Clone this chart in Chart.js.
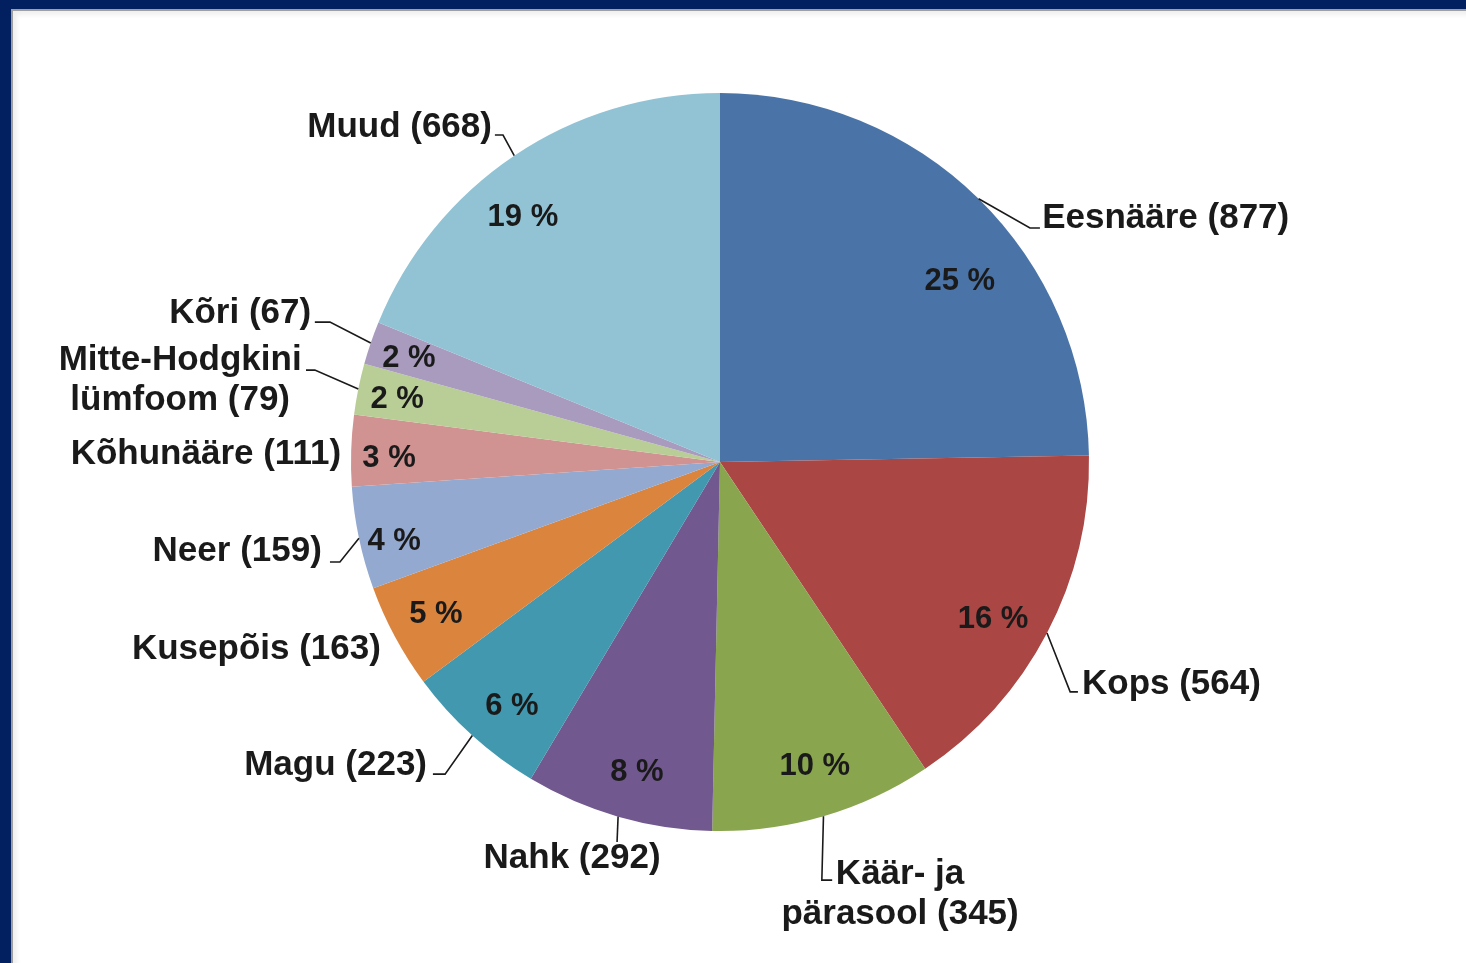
<!DOCTYPE html>
<html>
<head>
<meta charset="utf-8">
<script src="https://cdn.jsdelivr.net/npm/chart.js@4.4.1/dist/chart.umd.min.js"></script>
<style>
  body { margin: 0; background: #fff; }
  #frame { position: absolute; left: 0; top: 0; width: 1466px; height: 963px; background: #022060; }
  #panel { position: absolute; left: 11px; top: 9px; right: 0; bottom: 0; background: #fff;
           border-left: 2px solid #a0a0a0; border-top: 2px solid #a0a0a0;
           box-shadow: inset 4px 4px 4px #f0f0f0; }
  #wrap { position: absolute; left: 0; top: 0; width: 1466px; height: 963px; }
</style>
</head>
<body>
<div id="frame"><div id="panel"></div></div>
<div id="wrap"><canvas id="pieChart"></canvas></div>
<script>
// categories and values (tumors, count)
const categories = ['Eesnääre', 'Kops', ['Käär- ja', 'pärasool'], 'Nahk', 'Magu', 'Kusepõis',
  'Neer', 'Kõhunääre', ['Mitte-Hodgkini', 'lümfoom'], 'Kõri', 'Muud'];
const counts = [877, 564, 345, 292, 223, 163, 159, 111, 79, 67, 668];
const colors = ['#4A74A8', '#AA4644', '#89A54E', '#71588F', '#4198AF', '#DB843D',
  '#93A9CF', '#D19392', '#B9CD96', '#A99BBD', '#92C3D5'];

// label layout, as fractions of the radius from the pie centre
const pctPos = [[0.650, -0.496], [0.740, 0.420], [0.257, 0.821], [-0.225, 0.835], [-0.564, 0.656],
  [-0.770, 0.409], [-0.883, 0.211], [-0.897, -0.014], [-0.875, -0.176], [-0.843, -0.287], [-0.534, -0.667]];
const namePos = [
  { at: [0.873, -0.667], align: 'left', elbow: [0.840, -0.634], end: [0.867, -0.634] },
  { at: [0.981, 0.596], align: 'left', elbow: [0.949, 0.623], end: [0.970, 0.623] },
  { at: [0.488, 1.111], align: 'center', elbow: [0.276, 1.133], end: [0.304, 1.133] },
  { at: [-0.401, 1.068], align: 'center', elbow: [-0.279, 1.030], end: [-0.279, 1.030] },
  { at: [-0.794, 0.818], align: 'right', elbow: [-0.745, 0.846], end: [-0.778, 0.846] },
  { at: [-0.919, 0.501], align: 'right' },
  { at: [-1.079, 0.238], align: 'right', elbow: [-1.030, 0.271], end: [-1.057, 0.271] },
  { at: [-1.027, -0.027], align: 'right' },
  { at: [-1.463, -0.282], align: 'center', elbow: [-1.098, -0.249], end: [-1.122, -0.249] },
  { at: [-1.108, -0.409], align: 'right', elbow: [-1.057, -0.379], end: [-1.098, -0.379] },
  { at: [-0.618, -0.913], align: 'right', elbow: [-0.588, -0.886], end: [-0.610, -0.886] }
];

const total = counts.reduce((a, b) => a + b, 0);

const sliceLabels = {
  id: 'sliceLabels',
  afterDatasetsDraw(chart) {
    const ctx = chart.ctx;
    const arcs = chart.getDatasetMeta(0).data;
    ctx.save();
    arcs.forEach((arc, i) => {
      const p = arc.getProps(['x', 'y', 'outerRadius', 'startAngle', 'endAngle'], true);
      const cx = p.x, cy = p.y, r = p.outerRadius;
      const mid = (p.startAngle + p.endAngle) / 2;
      const pos = namePos[i];

      // leader line
      if (pos.elbow) {
        ctx.beginPath();
        ctx.strokeStyle = '#1a1a1a';
        ctx.lineWidth = 1.6;
        ctx.moveTo(cx + Math.cos(mid) * r, cy + Math.sin(mid) * r);
        ctx.lineTo(cx + pos.elbow[0] * r, cy + pos.elbow[1] * r);
        ctx.lineTo(cx + pos.end[0] * r, cy + pos.end[1] * r);
        ctx.stroke();
      }

      // category name + count
      let lines = Array.isArray(categories[i]) ? categories[i].slice() : [categories[i]];
      lines[lines.length - 1] += ' (' + counts[i] + ')';
      ctx.font = 'bold 35px "Liberation Sans", Arial, sans-serif';
      ctx.fillStyle = '#1a1a1a';
      ctx.textAlign = pos.align;
      ctx.textBaseline = 'middle';
      lines.forEach((t, k) => {
        ctx.fillText(t, cx + pos.at[0] * r, cy + pos.at[1] * r + 2 + k * 40);
      });

      // percentage
      const pct = Math.round(counts[i] / total * 100) + ' %';
      ctx.font = 'bold 31px "Liberation Sans", Arial, sans-serif';
      ctx.textAlign = 'center';
      ctx.fillText(pct, cx + pctPos[i][0] * r, cy + pctPos[i][1] * r + 2);
    });
    ctx.restore();
  }
};

const ctx = document.getElementById('pieChart').getContext('2d');
new Chart(ctx, {
  type: 'pie',
  data: {
    labels: categories,
    datasets: [{
      data: counts,
      backgroundColor: colors,
      borderWidth: 0,
      hoverOffset: 0
    }]
  },
  options: {
    responsive: true,
    maintainAspectRatio: false,
    animation: false,
    events: [],
    layout: { padding: { top: 93, bottom: 132, left: 351, right: 377 } },
    plugins: {
      legend: { display: false },
      tooltip: { enabled: false }
    }
  },
  plugins: [sliceLabels]
});
</script>
</body>
</html>
